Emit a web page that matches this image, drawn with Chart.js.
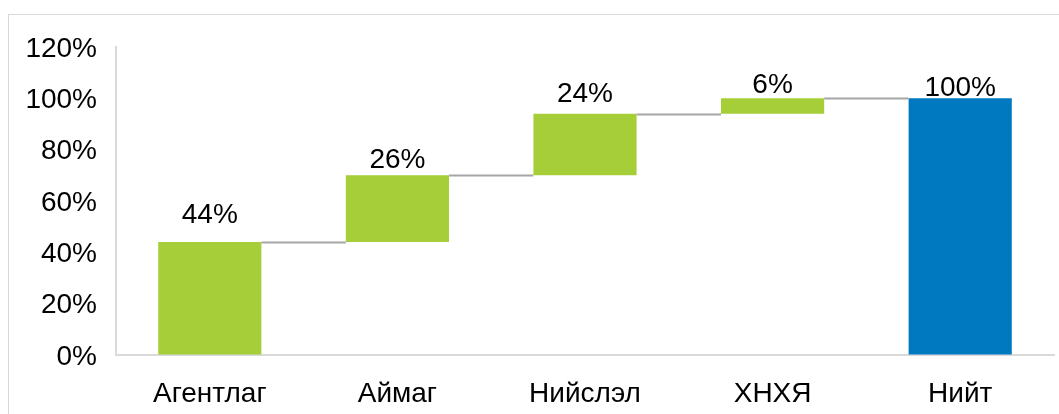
<!DOCTYPE html>
<html>
<head>
<meta charset="utf-8">
<script src="https://cdn.jsdelivr.net/npm/chart.js@4"></script>
<style>
  html, body { margin: 0; padding: 0; background: #fff; overflow: hidden; }
  #wrap { position: relative; width: 1059px; height: 414px; }
  #frame { position: absolute; left: 8px; top: 14px; width: 1100px; height: 450px; border: 1px solid #d9d9d9; box-sizing: border-box; }
  canvas { position: absolute; left: 0; top: 0; }
</style>
</head>
<body>
<div id="wrap">
  <div id="frame"></div>
  <canvas id="waterfall" width="1059" height="414"></canvas>
</div>
<script>
const categories = ["Агентлаг", "Аймаг", "Нийслэл", "ХНХЯ", "Нийт"];
const values = [44, 26, 24, 6, 100];
const isTotal = [false, false, false, false, true];
const yTicks = [0, 20, 40, 60, 80, 100, 120];

// floating bars: [start, end]
let running = 0;
const ranges = values.map(function(v, i) {
  if (isTotal[i]) return [0, v];
  const r = [running, running + v];
  running += v;
  return r;
});

const colors = isTotal.map(t => t ? "#0079c1" : "#a6ce39");
const font = { family: "'Liberation Sans', Arial, sans-serif", size: 28 };
// vertical gap between bar top and its label (as placed in the original)
const labelGap = [19, 7, 12, 5, 2];

const connectors = {
  id: "connectors",
  afterDatasetsDraw(chart) {
    const meta = chart.getDatasetMeta(0);
    const y = chart.scales.y;
    const c = chart.ctx;
    c.save();
    c.strokeStyle = "#a6a6a6";
    c.lineWidth = 2;
    for (let i = 0; i < meta.data.length - 1; i++) {
      const a = meta.data[i], b = meta.data[i + 1];
      const py = Math.round(y.getPixelForValue(ranges[i][1])) + 0.5;
      c.beginPath();
      c.moveTo(a.x + a.width / 2, py);
      c.lineTo(b.x - b.width / 2, py);
      c.stroke();
    }
    c.restore();
  }
};

const barLabels = {
  id: "barLabels",
  afterDatasetsDraw(chart) {
    const meta = chart.getDatasetMeta(0);
    const c = chart.ctx;
    c.save();
    c.font = font.size + "px " + font.family;
    c.fillStyle = "#000";
    c.textAlign = "center";
    c.textBaseline = "alphabetic";
    meta.data.forEach(function(bar, i) {
      const top = Math.min(bar.y, bar.base);
      c.fillText(values[i] + "%", bar.x, top - labelGap[i]);
    });
    c.restore();
  }
};

new Chart(document.getElementById("waterfall"), {
  type: "bar",
  data: {
    labels: categories,
    datasets: [{
      data: ranges,
      backgroundColor: colors,
      borderWidth: 0,
      barPercentage: 0.55,
      categoryPercentage: 1
    }]
  },
  options: {
    responsive: false,
    animation: false,
    layout: { padding: { left: 0, right: 5, top: 47, bottom: 0 } },
    plugins: { legend: { display: false }, tooltip: { enabled: false } },
    scales: {
      x: {
        grid: { color: "transparent", drawTicks: false },
        border: { display: true, color: "#d9d9d9", width: 2 },
        ticks: { color: "#000", font: font, padding: 22 },
        afterFit(s) { s.height = 59; }
      },
      y: {
        min: 0,
        max: 120,
        afterBuildTicks(s) { s.ticks = yTicks.map(v => ({ value: v })); },
        grid: { color: "transparent", drawTicks: false },
        border: { display: true, color: "#d9d9d9", width: 2 },
        ticks: { color: "#000", font: font, padding: 19, labelOffset: 2, callback: v => v + "%" },
        afterFit(s) { s.width = 116; }
      }
    }
  },
  plugins: [connectors, barLabels]
});
</script>
</body>
</html>
